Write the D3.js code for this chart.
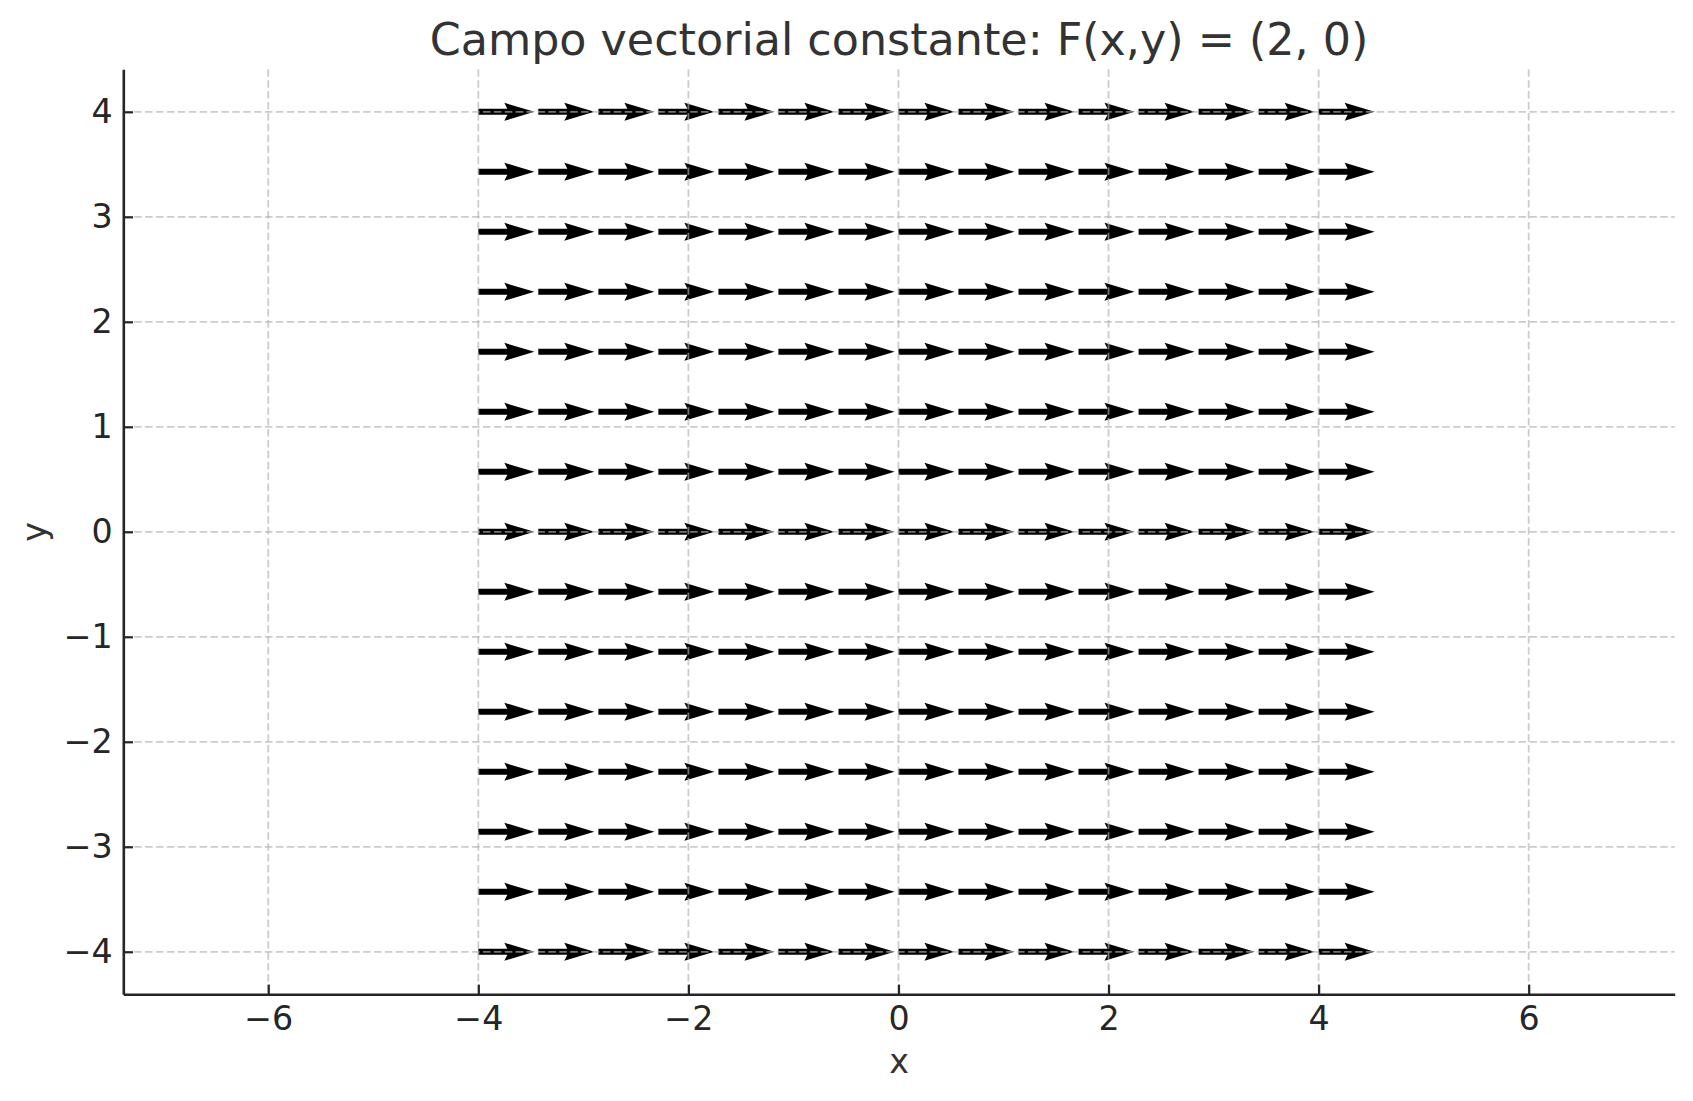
<!DOCTYPE html>
<html>
<head>
<meta charset="utf-8">
<script src="https://cdn.jsdelivr.net/npm/d3@7"></script>
<style>
  html, body { margin: 0; padding: 0; background: #ffffff; }
  svg { display: block; font-family: "DejaVu Sans", sans-serif; }
</style>
</head>
<body>
<svg id="chart" width="1693" height="1101"></svg>
<script>
// ---- Data ----
const gridX = [-4, -3.429, -2.857, -2.286, -1.714, -1.143, -0.571, 0, 0.571, 1.143, 1.714, 2.286, 2.857, 3.429, 4];
const gridY = [-4, -3.429, -2.857, -2.286, -1.714, -1.143, -0.571, 0, 0.571, 1.143, 1.714, 2.286, 2.857, 3.429, 4];
const fieldU = 2;   // F(x,y) = (2, 0)
const fieldV = 0;
const quiverScale = 3.75; // data units per arrow length unit
const xTicks = [-6, -4, -2, 0, 2, 4, 6];
const yTicks = [-4, -3, -2, -1, 0, 1, 2, 3, 4];
const titleText = "Campo vectorial constante: F(x,y) = (2, 0)";
const xLabel = "x";
const yLabel = "y";

// ---- Layout ----
const svg = d3.select("#chart");
const plot = { left: 123.3, right: 1674.7, top: 69.3, bottom: 994.3 };
const x = d3.scaleLinear().domain([-7.38, 7.39]).range([plot.left, plot.right]);
const y = d3.scaleLinear().domain([-4.405, 4.405]).range([plot.bottom, plot.top]);

const vectors = [];
gridY.forEach(gy => gridX.forEach(gx => vectors.push({ x: gx, y: gy, u: fieldU, v: fieldV })));

// ---- Arrows (quiver, pivot tail) ----
const w = 6.0;              // shaft width px
const headLen = 5 * w;      // barb back
const headAxis = 4.5 * w;   // shaft-head junction
const headHalf = 1.5 * w;   // half head width

svg.append("g").attr("class", "arrows")
  .selectAll("path").data(vectors).join("path")
  .attr("d", d => {
    const x0 = x(d.x), y0 = y(d.y);
    const x1 = x(d.x + d.u / quiverScale), y1 = y(d.y + d.v / quiverScale);
    const L = Math.hypot(x1 - x0, y1 - y0);
    const ang = Math.atan2(y1 - y0, x1 - x0) * 180 / Math.PI;
    const pts = [[0, -w / 2], [L - headAxis, -w / 2], [L - headLen, -headHalf], [L, 0],
                 [L - headLen, headHalf], [L - headAxis, w / 2], [0, w / 2]];
    d._t = `translate(${x0},${y0}) rotate(${ang})`;
    return "M" + pts.map(q => q.join(",")).join("L") + "Z";
  })
  .attr("transform", d => d._t)
  .attr("fill", "#000000");

// ---- Grid (drawn above arrows, semi-transparent) ----
const grid = svg.append("g").attr("class", "grid")
  .attr("stroke", "#b0b0b0").attr("stroke-opacity", 0.65)
  .attr("stroke-width", 1.8).attr("stroke-dasharray", "7.5,3.4");
grid.selectAll("line.v").data(xTicks).join("line").attr("class", "v")
  .attr("x1", d => x(d)).attr("x2", d => x(d))
  .attr("y1", plot.top).attr("y2", plot.bottom);
grid.selectAll("line.h").data(yTicks).join("line").attr("class", "h")
  .attr("y1", d => y(d)).attr("y2", d => y(d))
  .attr("x1", plot.left).attr("x2", plot.right);

// ---- Axes ----
const tickFont = 33.3;
const xAxis = d3.axisBottom(x).tickValues(xTicks).tickSizeInner(-9.7).tickSizeOuter(0).tickPadding(12);
const yAxis = d3.axisLeft(y).tickValues(yTicks).tickSizeInner(-9.7).tickSizeOuter(0).tickPadding(10.5);

const gx = svg.append("g").attr("transform", `translate(0,${plot.bottom})`).call(xAxis);
const gy = svg.append("g").attr("transform", `translate(${plot.left},0)`).call(yAxis);
[gx, gy].forEach(g => {
  g.select(".domain").attr("stroke", "#262626").attr("stroke-width", 2.6);
  g.selectAll(".tick line").attr("stroke", "#262626").attr("stroke-width", 2.2);
  g.selectAll(".tick text").attr("fill", "#262626")
    .style("font-family", "'DejaVu Sans', sans-serif").style("font-size", tickFont + "px");
});

// ---- Labels ----
svg.append("text").attr("x", (plot.left + plot.right) / 2).attr("y", 55)
  .attr("text-anchor", "middle").attr("fill", "#333333")
  .style("font-size", "44.4px").text(titleText);

svg.append("text").attr("x", (plot.left + plot.right) / 2).attr("y", 1073)
  .attr("text-anchor", "middle").attr("fill", "#333333")
  .style("font-size", tickFont + "px").text(xLabel);

svg.append("text")
  .attr("transform", `translate(46,${(plot.top + plot.bottom) / 2}) rotate(-90)`)
  .attr("text-anchor", "middle").attr("fill", "#333333")
  .style("font-size", tickFont + "px").text(yLabel);
</script>
</body>
</html>
